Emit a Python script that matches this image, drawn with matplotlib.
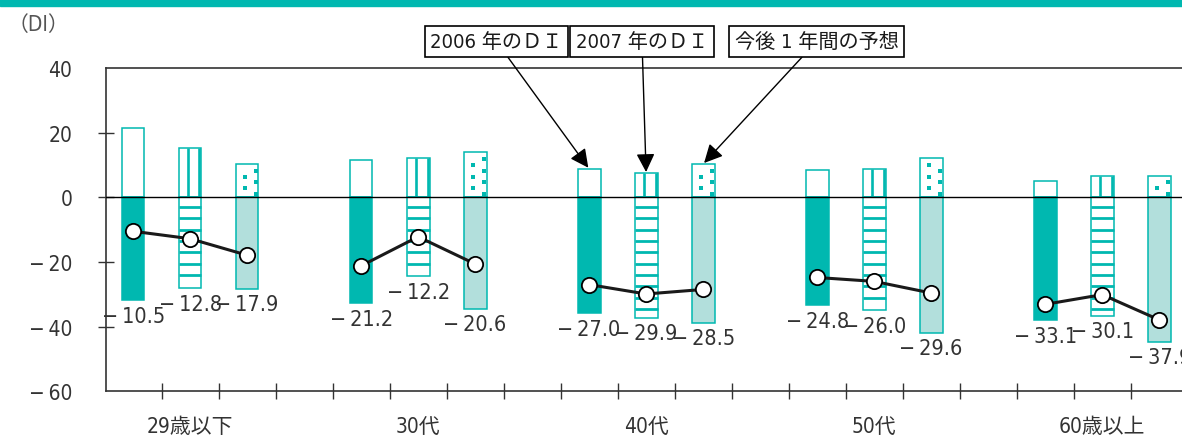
import numpy as np
import matplotlib
matplotlib.use('Agg')
from matplotlib import pyplot as plt
from matplotlib.patches import Rectangle

plt.rcParams['font.family'] = ['DejaVu Sans', 'Noto Sans CJK JP']
plt.rcParams['font.stretch'] = 'condensed'

groups = ['29歳以下', '30代', '40代', '50代', '60歳以上']

# positive / negative shares and the resulting DI for each age group
pos_2006 = [21.3, 11.5, 8.8, 8.5, 5.0]
neg_2006 = [-31.8, -32.7, -35.8, -33.3, -38.1]
di_2006 = [-10.5, -21.2, -27.0, -24.8, -33.1]

pos_2007 = [15.3, 12.2, 7.4, 8.9, 6.5]
neg_2007 = [-28.1, -24.4, -37.3, -34.9, -36.6]
di_2007 = [-12.8, -12.2, -29.9, -26.0, -30.1]

pos_next = [10.4, 13.9, 10.3, 12.3, 6.7]
neg_next = [-28.3, -34.5, -38.8, -41.9, -44.6]
di_next = [-17.9, -20.6, -28.5, -29.6, -37.9]

series_names = ['2006 年のＤＩ', '2007 年のＤＩ', '今後 1 年間の予想']
yticks = [-60, -40, -20, 0, 20, 40]

teal = '#00b8b0'
light = '#b2dfdc'
ink = '#333333'
W = 0.4
MINUS = '\u2212\u2009'

fig = plt.figure(figsize=(11.82, 4.39), dpi=100)
fig.patches.append(Rectangle((0, 1 - 7 / 439), 1, 7 / 439, transform=fig.transFigure,
                             color=teal, zorder=0))
ax = fig.add_axes([105.7 / 1182, 46.7 / 439, 1 - 105.7 / 1182, 323.3 / 439])

x = np.arange(len(groups)) * 4

# 2006: plain outline above zero, solid below
ax.bar(x, pos_2006, W, color='white', edgecolor=teal, lw=1.1, zorder=2)
ax.bar(x, neg_2006, W, color=teal, edgecolor=teal, lw=1.1, zorder=2)

# 2007: vertical stripes above zero, horizontal stripes below
x2 = x + 1
ax.bar(x2, pos_2007, W, color='white', edgecolor=teal, lw=1.1, zorder=2)
ax.bar(x2, neg_2007, W, color='white', edgecolor=teal, lw=1.1, zorder=2)
for c, p, n in zip(x2, pos_2007, neg_2007):
    ax.vlines([c - 0.04, c + 0.165], 0, p, color=teal, lw=1.9, zorder=3)
    ys = np.arange(-3.0, n + 1.0, -3.5)
    ax.hlines(ys, c - W / 2, c + W / 2, color=teal, lw=2.0, zorder=3)

# outlook: dotted above zero, pale fill below
x3 = x + 2
ax.bar(x3, pos_next, W, color='white', edgecolor=teal, lw=1.1, zorder=2)
ax.bar(x3, neg_next, W, color=light, edgecolor=teal, lw=1.1, zorder=2)
for c, p in zip(x3, pos_next):
    ys = np.arange(1.0, p - 0.8, 1.8)
    xs = np.where(np.arange(len(ys)) % 2 == 0, c + 0.163, c - 0.03)
    ax.scatter(xs, ys, s=5, marker='s', color=teal, lw=0, zorder=3)

ax.axhline(0, color='black', lw=1.0, zorder=4)

# DI line per age group
for g in range(len(groups)):
    xs = [x[g], x2[g], x3[g]]
    ds = [di_2006[g], di_2007[g], di_next[g]]
    ax.plot(xs, ds, color='#1a1a1a', lw=2.2, zorder=5)
    ax.plot(xs, ds, 'o', ms=11, mfc='white', mec='black', mew=1.3, zorder=6)

# value labels under each bar
for xs, negs, dis in [(x, neg_2006, di_2006), (x2, neg_2007, di_2007), (x3, neg_next, di_next)]:
    for c, n, d in zip(xs, negs, dis):
        ax.annotate(MINUS + f'{abs(d):.1f}', (c, n), xytext=(0, -4), textcoords='offset points',
                    ha='center', va='top', fontsize=15.5, color=ink)

ax.set_xlim(-0.48, 18.4)
ax.set_ylim(-60, 40)
ax.set_yticks(yticks)
ax.set_yticklabels([MINUS + str(abs(v)) if v < 0 else str(v) for v in yticks])
ax.tick_params(axis='y', direction='inout', length=12, width=1.0, color=ink,
               labelsize=15, labelcolor=ink, pad=18)
for t in (ax.yaxis.get_major_ticks()[0], ax.yaxis.get_major_ticks()[-1]):
    t.tick1line.set_visible(False)

ax.set_xticks(np.arange(0.5, 18, 1.0))
ax.set_xticklabels([])
ax.tick_params(axis='x', which='major', direction='inout', length=11, width=1.0, color=ink)
ax.set_xticks(x + 1, minor=True)
ax.set_xticklabels(groups, minor=True)
ax.tick_params(axis='x', which='minor', length=0, labelsize=15, labelcolor=ink, pad=18)

ax.spines['right'].set_visible(False)
for s in ('left', 'top', 'bottom'):
    ax.spines[s].set_color(ink)
    ax.spines[s].set_linewidth(1.2)

fig.text(8 / 1182, 1 - 25 / 439, '（DI）', fontsize=15, color='#555555', va='center')

# series callouts pointing at the 40s bars
tips = [(x[2], pos_2006[2]), (x2[2], pos_2007[2]), (x3[2], pos_next[2])]
box_x = [496.5, 642, 816.5]
for name, tip, bx in zip(series_names, tips, box_x):
    ax.annotate(name, tip, xytext=(bx, 439 - 42.5), textcoords='figure pixels',
                ha='center', va='center', fontsize=14.5, color='#1a1a1a',
                bbox=dict(boxstyle='square,pad=0.28', fc='white', ec='black', lw=1.2),
                arrowprops=dict(arrowstyle='-|>,head_length=0.7,head_width=0.35',
                                mutation_scale=16, color='black', lw=1.0,
                                shrinkA=0, shrinkB=1),
                annotation_clip=False, zorder=7)

fig.savefig('out.png', dpi=100)
